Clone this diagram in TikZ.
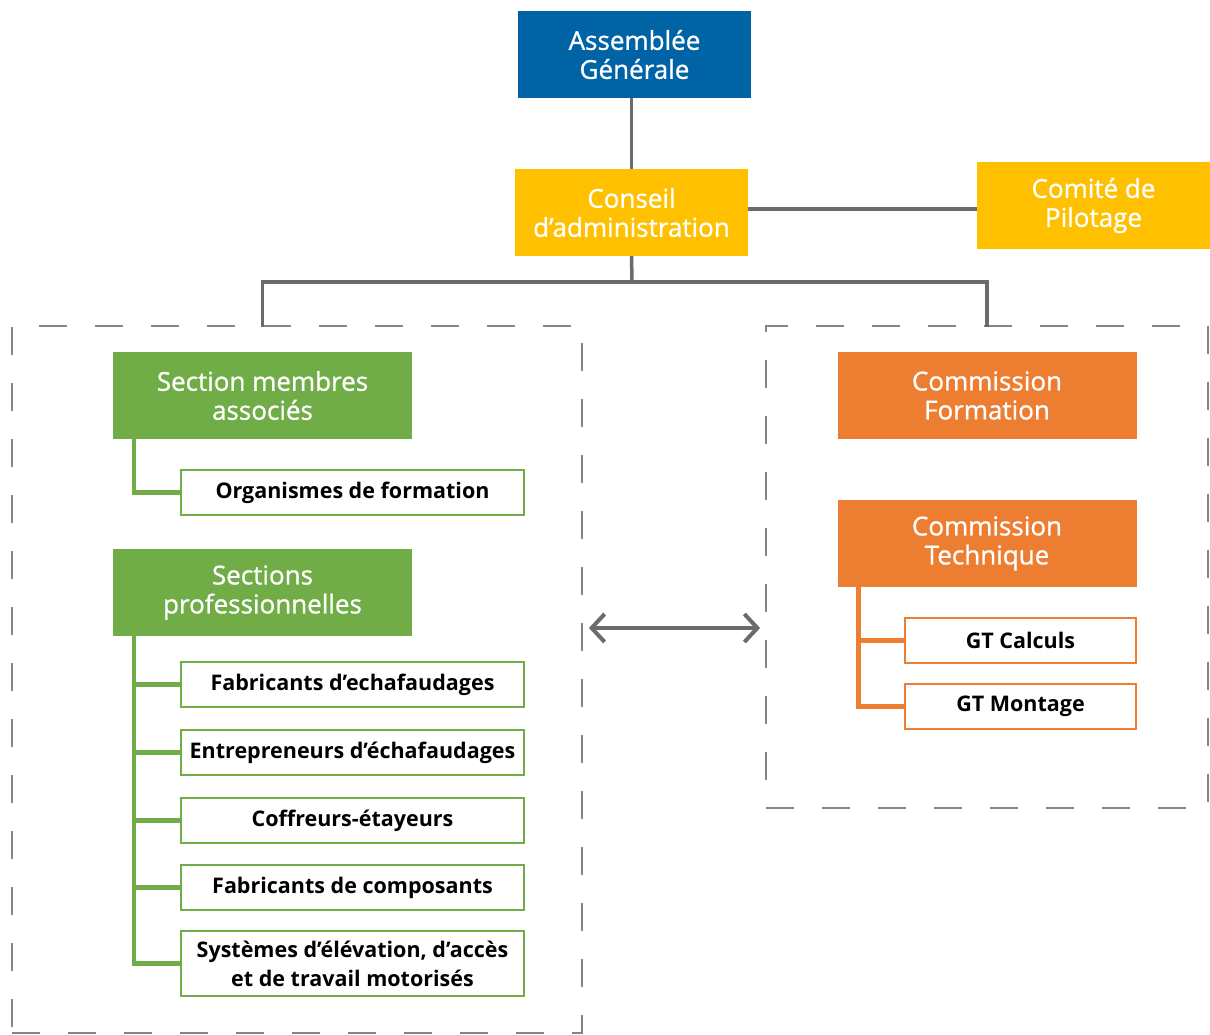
\documentclass[tikz,border=0pt]{standalone}
\usepackage{fontspec}
\setmainfont{Open Sans}
\newfontfamily\semib[FakeBold=0.9]{Open Sans}
\usetikzlibrary{arrows.meta}
\definecolor{cblue}{HTML}{0063A6}
\definecolor{cyellow}{HTML}{FFC000}
\definecolor{cgreen}{HTML}{70AD47}
\definecolor{corange}{HTML}{ED7D31}
\definecolor{cline}{HTML}{6B6B6B}
\definecolor{cdash}{HTML}{858585}
\tikzset{
  headbox/.style={minimum width=233pt, minimum height=87pt, inner sep=0pt, text=white, align=center,
    font=\semib\fontsize{26}{29}\selectfont},
  secbox/.style={headbox, minimum width=299pt},
  subbox/.style={draw=#1, line width=2pt, fill=white, minimum width=343pt, minimum height=45pt, inner sep=0pt,
    align=center, font=\bfseries\fontsize{21.5}{29}\selectfont},
  gtbox/.style={subbox=#1, minimum width=231pt},
  grp/.style={draw=cdash, line width=1.8pt, dash pattern=on 28pt off 28pt, minimum width=#1, inner sep=0pt},
  conn/.style={draw=cline, line width=3.5pt},
  branch/.style={draw=#1, line width=4.5pt},
  dblarrow/.style={draw=cline, line width=4pt, {Straight Barb[length=13pt,width=28pt,line width=4pt]}-{Straight Barb[length=13pt,width=28pt,line width=4pt]}},
}
\begin{document}
\begin{tikzpicture}[x=1pt,y=-1pt]
\useasboundingbox (0,0) rectangle (1210,1035);
% groups
\node[grp=570pt, minimum height=707pt] (LB) at (297,679.5) {};
\node[grp=442pt, minimum height=482pt] (RB) at (987,567) {};
% top
\node[headbox, fill=cblue] (AG) at (634.5,54.5) {Assemblée\\Générale};
\node[headbox, fill=cyellow] (CA) at (631.5,212.5) {Conseil\\d’administration};
\node[headbox, fill=cyellow] (CP) at (1093.5,205.5) {Comité de\\Pilotage};
% left
\node[secbox, fill=cgreen] (SMA) at (262.5,395.5) {Section membres\\associés};
\node[subbox=cgreen] (OF) at (352.5,492.5) {Organismes de formation};
\node[secbox, fill=cgreen] (SP) at (262.5,592.5) {Sections\\professionnelles};
\node[subbox=cgreen] (FE) at (352.5,684.5) {Fabricants d’echafaudages};
\node[subbox=cgreen] (EE) at (352.5,752.5) {Entrepreneurs d’échafaudages};
\node[subbox=cgreen] (CE) at (352.5,820.5) {Coffreurs-étayeurs};
\node[subbox=cgreen] (FC) at (352.5,887.5) {Fabricants de composants};
\node[subbox=cgreen, minimum height=65pt] (SY) at (352.5,963.5) {Systèmes d’élévation, d’accès\\et de travail motorisés};
% right
\node[secbox, fill=corange] (CF) at (987,395.5) {Commission\\Formation};
\node[secbox, fill=corange] (CT) at (987,543.5) {Commission\\Technique};
\node[gtbox=corange] (GC) at (1020.5,640.5) {GT Calculs};
\node[gtbox=corange] (GM) at (1020.5,706.5) {GT Montage};
% connectors
\coordinate (bus) at (632,282);
\coordinate (cpy) at (0,209);
\draw[conn] (CA.north) -- (CA.north |- AG.south);
\draw[conn] (CA.east |- cpy) -- (CP.west |- cpy);
\draw[conn] (CA.south) -- (bus);
\draw[conn, line cap=rect] (SMA.north |- LB.north) -- (SMA.north |- bus) -- (CF.north |- bus) -- (CF.north |- RB.north);
% green branches
\draw[branch=cgreen] ([xshift=21pt]SMA.south west) |- (OF.west);
\draw[branch=cgreen] ([xshift=21pt]SP.south west) |- (SY.west);
\foreach \n in {FE,EE,CE,FC}{
  \draw[branch=cgreen] ([xshift=21pt]SP.south west |- \n.west) -- (\n.west);
}
% orange branches
\draw[branch=corange] ([xshift=21pt]CT.south west) |- (GM.west);
\draw[branch=corange] ([xshift=21pt]CT.south west |- GC.west) -- (GC.west);
% double arrow
\coordinate (ay) at (0,628);
\draw[dblarrow, shorten <=6pt, shorten >=5pt] (LB.east |- ay) -- (RB.west |- ay);
\end{tikzpicture}
\end{document}
